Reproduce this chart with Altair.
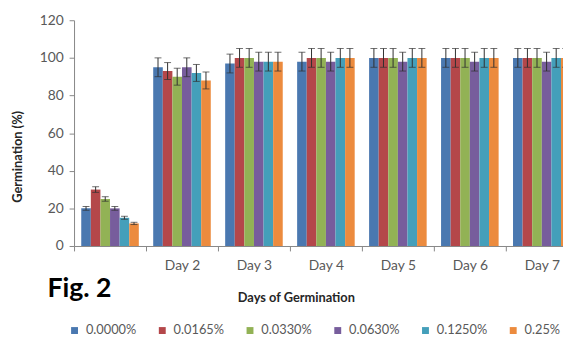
import altair as alt
import pandas as pd

days = ["Day 1", "Day 2", "Day 3", "Day 4", "Day 5", "Day 6", "Day 7"]
concs = ["0.0000%", "0.0165%", "0.0330%", "0.0630%", "0.1250%", "0.25%"]
colors = ["#4A78B0", "#B4474A", "#92B255", "#775D9C", "#449FBA", "#EC8B3E"]

v_0000 = [20, 95, 97, 98, 100, 100, 100]
v_0165 = [30, 93, 100, 100, 100, 100, 100]
v_0330 = [25, 90, 100, 100, 100, 100, 100]
v_0630 = [20, 95, 98, 98, 98, 98, 98]
v_1250 = [15, 92, 98, 100, 100, 100, 100]
v_2500 = [12, 88, 98, 100, 100, 100, 100]

e_0000 = [1.0, 5, 5, 5, 5, 5, 5]
e_0165 = [1.5, 4.5, 5, 5, 5, 5, 5]
e_0330 = [1.2, 4.5, 5, 5, 5, 5, 5]
e_0630 = [1.0, 5, 5, 5, 5, 5, 5]
e_1250 = [0.8, 4.5, 5, 5, 5, 5, 5]
e_2500 = [0.6, 4.5, 5, 5, 5, 5, 5]

y_ticks = [0, 20, 40, 60, 80, 100, 120]
fig_label = ["Fig. 2"]

series = [v_0000, v_0165, v_0330, v_0630, v_1250, v_2500]
errors = [e_0000, e_0165, e_0330, e_0630, e_1250, e_2500]

rows = []
for c, vals, errs in zip(concs, series, errors):
    for d, v, e in zip(days, vals, errs):
        rows.append({"day": d, "conc": c, "value": v, "lo": v - e, "hi": v + e})
df = pd.DataFrame(rows)

xscale = alt.Scale(domain=days, range=[0, 511], paddingInner=0.2, paddingOuter=0.1)
oscale = alt.Scale(domain=concs, paddingInner=0, paddingOuter=0)
yscale = alt.Scale(domain=[0, 120])

yaxis = alt.Axis(
    values=y_ticks,
    grid=False,
    tickSize=5,
    tickColor="#868686",
    domainColor="#868686",
    labelFont="Lato",
    labelFontSize=14,
    labelColor="#595959",
    labelPadding=6,
    labelOverlap=False,
    title="Germination (%)",
    titleFont="Lato",
    titleFontWeight="bold",
    titleFontSize=13,
    titleColor="#262626",
    titleX=-57,
    titleY=138,
    titleAngle=-90,
    titleBaseline="middle",
    titleAlign="center",
)

base = alt.Chart(df).encode(
    x=alt.X(
        "day:N",
        scale=xscale,
        sort=days,
        axis=alt.Axis(
            title="Days of Germination",
            labelExpr="datum.value == 'Day 1' ? '' : datum.label",
            labelAngle=0,
            tickOffset=-36.5,
            labelOffset=36.5,
            tickSize=5,
            tickColor="#868686",
            domainColor="#868686",
            labelFont="Lato",
            labelFontSize=14,
            labelColor="#595959",
            labelPadding=8,
            labelOverlap=False,
            titleFont="Lato",
            titleFontWeight="bold",
            titleFontSize=13,
            titleColor="#262626",
            titleX=225,
            titleY=52,
            titleBaseline="middle",
            titleAlign="center",
        ),
    ),
    xOffset=alt.XOffset("conc:N", sort=concs, scale=oscale),
)

bars = base.mark_bar().encode(
    y=alt.Y("value:Q", scale=yscale, axis=yaxis),
    color=alt.Color(
        "conc:N",
        sort=concs,
        scale=alt.Scale(domain=concs, range=colors),
        legend=alt.Legend(
            title=None,
            orient="none",
            direction="horizontal",
            legendX=-6,
            legendY=308,
            symbolType="square",
            symbolSize=49,
            symbolStrokeWidth=0,
            labelFont="Lato",
            labelFontSize=13,
            labelColor="#595959",
            labelOffset=5,
            columnPadding=19,
        ),
    ),
)

rules = base.mark_rule(color="#303030", strokeWidth=1).encode(
    y=alt.Y("lo:Q", scale=yscale, axis=yaxis), y2="hi:Q"
)
cap_hi = base.mark_tick(color="#303030", thickness=1, size=7).encode(
    y=alt.Y("hi:Q", scale=yscale, axis=yaxis)
)
cap_lo = base.mark_tick(color="#303030", thickness=1, size=7).encode(
    y=alt.Y("lo:Q", scale=yscale, axis=yaxis)
)

fig = alt.Chart(pd.DataFrame({"t": fig_label})).mark_text(
    font="Lato", fontWeight="bold", fontSize=27, align="left",
    baseline="alphabetic", color="#000000"
).encode(x=alt.value(-27), y=alt.value(281), text="t:N")

chart = alt.layer(bars, rules, cap_hi, cap_lo, fig).properties(
    width=496,
    height=229,
    autosize=alt.AutoSizeParams(type="none"),
    padding={"left": 67, "top": 10, "right": 0, "bottom": 98},
    background="white",
).configure_view(stroke=None)

chart.save("out.html", embed_options={"renderer": "svg", "actions": False})
